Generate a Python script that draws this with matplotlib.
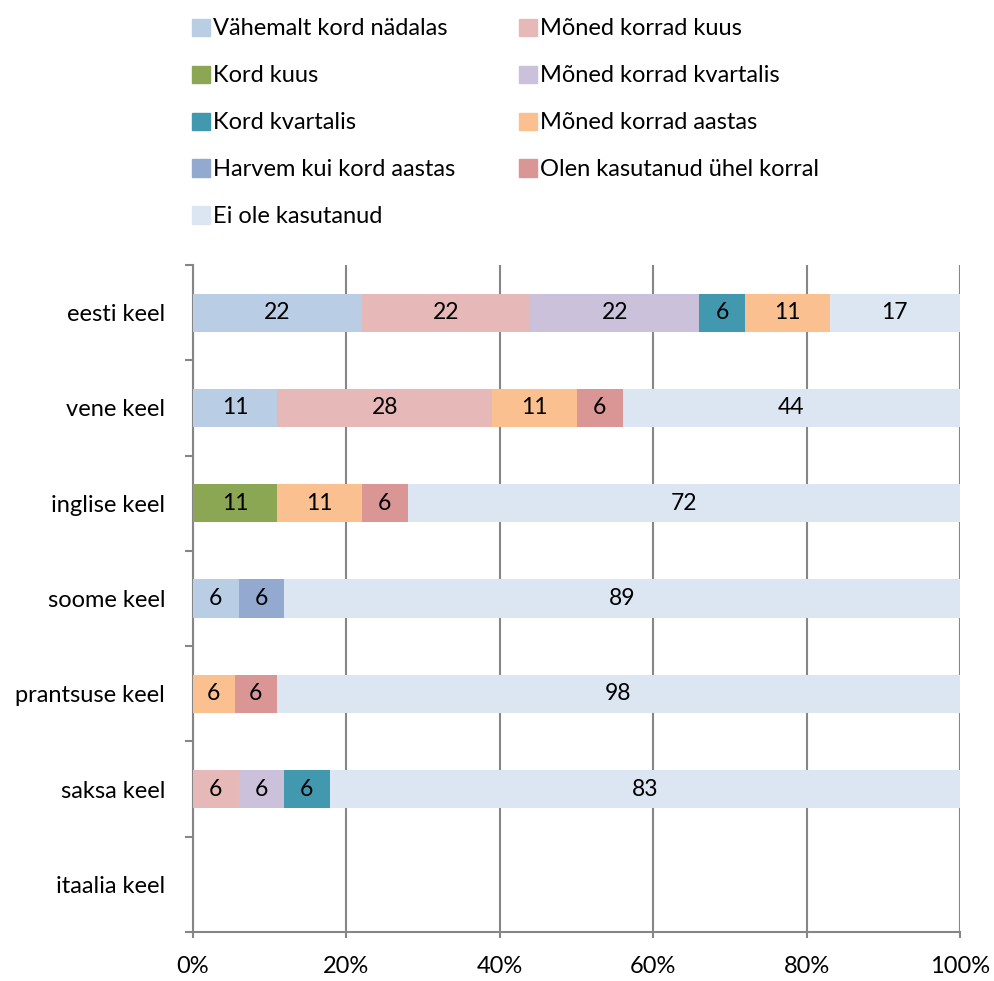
import matplotlib
matplotlib.use("Agg")
import matplotlib.pyplot as plt
from matplotlib.patches import Patch
import numpy as np

plt.rcParams['font.family'] = ['Lato', 'DejaVu Sans']

# Keeled (ülevalt alla)
keeled = ["eesti keel", "vene keel", "inglise keel", "soome keel",
          "prantsuse keel", "saksa keel", "itaalia keel"]

# Sagedused (virnastamise järjekord)
sagedused = ["Vähemalt kord nädalas", "Mõned korrad kuus", "Kord kuus",
             "Mõned korrad kvartalis", "Kord kvartalis", "Mõned korrad aastas",
             "Harvem kui kord aastas", "Olen kasutanud ühel korral", "Ei ole kasutanud"]

# väärtused iga keele kohta, sama järjekord nagu sagedused
vahemalt_nadalas = [22, 11, 0, 6, 0, 0, 0]
moned_kuus       = [22, 28, 0, 0, 0, 6, 0]
kord_kuus        = [0, 0, 11, 0, 0, 0, 0]
moned_kvartalis  = [22, 0, 0, 0, 0, 6, 0]
kord_kvartalis   = [6, 0, 0, 0, 0, 6, 0]
moned_aastas     = [11, 11, 11, 0, 6, 0, 0]
harvem           = [0, 0, 0, 6, 0, 0, 0]
uhel_korral      = [0, 6, 6, 0, 6, 0, 0]
ei_ole           = [17, 44, 72, 89, 98, 83, 0]

varvid = ["#B9CDE5", "#E6B9B8", "#8BA753", "#CCC1DA", "#4198AF",
          "#FAC090", "#93A9CF", "#D99694", "#DCE6F2"]

read = [vahemalt_nadalas, moned_kuus, kord_kuus, moned_kvartalis, kord_kvartalis,
        moned_aastas, harvem, uhel_korral, ei_ole]
andmed = np.array(read, dtype=float)
summad = andmed.sum(axis=0)
protsent = np.divide(andmed, summad, out=np.zeros_like(andmed), where=summad > 0) * 100

fig = plt.figure(figsize=(9.95, 9.81), dpi=100)
ax = fig.add_axes([193/995, 1 - 932/981, 767/995, (932 - 265)/981])

y = np.arange(len(keeled))
vasak = np.zeros(len(keeled))
for i, nimi in enumerate(sagedused):
    ax.barh(y, protsent[i], left=vasak, height=0.4, color=varvid[i],
            edgecolor="none", zorder=3, label=nimi)
    for j in range(len(keeled)):
        if andmed[i, j] > 0:
            ax.text(vasak[j] + protsent[i, j] / 2, y[j], f"{andmed[i, j]:.0f}",
                    ha="center", va="center", fontsize=16.5, color="black", zorder=4)
    vasak += protsent[i]

ax.set_xlim(0, 100)
ax.set_ylim(len(keeled) - 0.5, -0.5)
ax.set_xticks(np.arange(0, 101, 20))
ax.set_xticklabels([f"{v}%" for v in range(0, 101, 20)], fontsize=17)
ax.set_yticks(y)
ax.set_yticklabels(keeled, fontsize=17)
ax.set_yticks(np.arange(-0.5, len(keeled)), minor=True)
ax.tick_params(axis="y", which="major", length=0, pad=20)
ax.tick_params(axis="y", which="minor", length=6, width=1.5, color="#868686")
ax.tick_params(axis="x", length=4, width=1.5, color="#868686", pad=13)

ax.grid(axis="x", color="#868686", linewidth=1.5, zorder=0)
for s in ["top", "right"]:
    ax.spines[s].set_visible(False)
for s in ["left", "bottom"]:
    ax.spines[s].set_color("#868686")
    ax.spines[s].set_linewidth(1.5)

# legend kahes veerus, rea kaupa nagu originaalis
kasitsejad = [Patch(color=c, label=n) for c, n in zip(varvid, sagedused)]
vasak_veerg = [kasitsejad[k] for k in [0, 2, 4, 6, 8]]
parem_veerg = [kasitsejad[k] for k in [1, 3, 5, 7]]
leg_kw = dict(frameon=False, fontsize=17, handlelength=0.75, handleheight=0.75,
              handletextpad=0.1, labelspacing=1.1, loc="upper left", borderaxespad=0)
fig.legend(handles=vasak_veerg, bbox_to_anchor=(183/995, 1 - 9/981), **leg_kw)
fig.legend(handles=parem_veerg, bbox_to_anchor=(510/995, 1 - 9/981), **leg_kw)

fig.savefig("out.png", dpi=100)
